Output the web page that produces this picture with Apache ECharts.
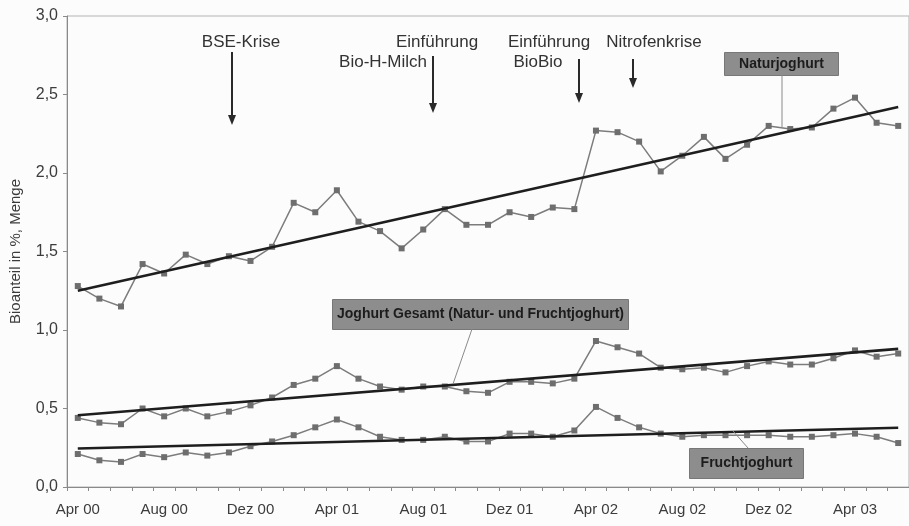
<!DOCTYPE html>
<html>
<head>
<meta charset="utf-8">
<script src="https://cdn.jsdelivr.net/npm/echarts@6/dist/echarts.min.js"></script>
<style>
  html, body { margin: 0; padding: 0; background: #fcfcfc; }
  #main { width: 909px; height: 526px; }
</style>
</head>
<body>
<div id="main"></div>
<script>
// monthly periods Apr 00 .. Jun 03
const months = [
  "Apr 00", "Mai 00", "Jun 00", "Jul 00", "Aug 00", "Sep 00", "Okt 00", "Nov 00", "Dez 00",
  "Jan 01", "Feb 01", "Mrz 01", "Apr 01", "Mai 01", "Jun 01", "Jul 01", "Aug 01", "Sep 01",
  "Okt 01", "Nov 01", "Dez 01", "Jan 02", "Feb 02", "Mrz 02", "Apr 02", "Mai 02", "Jun 02",
  "Jul 02", "Aug 02", "Sep 02", "Okt 02", "Nov 02", "Dez 02", "Jan 03", "Feb 03", "Mrz 03",
  "Apr 03", "Mai 03", "Jun 03"
]

const natur = [1.28, 1.20, 1.15, 1.42, 1.36, 1.48, 1.42, 1.47, 1.44, 1.53, 1.81, 1.75, 1.89, 1.69, 1.63, 1.52, 1.64, 1.77, 1.67, 1.67,
  1.75, 1.72, 1.78, 1.77, 2.27, 2.26, 2.20, 2.01, 2.11, 2.23, 2.09, 2.18, 2.30, 2.28, 2.29, 2.41, 2.48, 2.32, 2.30]
const gesamt = [0.44, 0.41, 0.40, 0.50, 0.45, 0.50, 0.45, 0.48, 0.52, 0.57, 0.65, 0.69, 0.77, 0.69, 0.64, 0.62, 0.64, 0.64, 0.61, 0.60,
  0.67, 0.67, 0.66, 0.69, 0.93, 0.89, 0.85, 0.76, 0.75, 0.76, 0.73, 0.77, 0.80, 0.78, 0.78, 0.82, 0.87, 0.83, 0.85]
const frucht = [0.21, 0.17, 0.16, 0.21, 0.19, 0.22, 0.20, 0.22, 0.26, 0.29, 0.33, 0.38, 0.43, 0.38, 0.32, 0.30, 0.30, 0.32, 0.29, 0.29,
  0.34, 0.34, 0.32, 0.36, 0.51, 0.44, 0.38, 0.34, 0.32, 0.33, 0.33, 0.33, 0.33, 0.32, 0.32, 0.33, 0.34, 0.32, 0.28]

// linear trends: value at first and last month
const trendNatur = [1.25, 2.42]
const trendGesamt = [0.457, 0.88]
const trendFrucht = [0.245, 0.377]

const yTicks = [0, 0.5, 1, 1.5, 2, 2.5, 3]

const FONT = "Liberation Sans"
const dataColor = "#7c7c7c"
const trendColor = "#1e1e1e"

function dataSeries(name, values) {
  return {
    name: name,
    type: "line",
    data: values,
    symbol: "rect",
    symbolSize: 6,
    lineStyle: { color: dataColor, width: 1.5 },
    itemStyle: { color: "#6e6e6e" },
    z: 3,
    silent: true,
  }
}

function trendSeries(name, ends) {
  return {
    name: name,
    type: "line",
    data: [[0, ends[0]], [months.length - 1, ends[1]]],
    symbol: "none",
    lineStyle: { color: trendColor, width: 2.6 },
    z: 4,
    silent: true,
  }
}

// event arrow pointing down: shaft + filled head
function arrow(x, y1, y2) {
  return {
    type: "group",
    z: 20,
    children: [
      { type: "line", shape: { x1: x, y1: y1, x2: x, y2: y2 - 8 }, style: { stroke: "#2a2a2a", lineWidth: 2 } },
      { type: "polygon", shape: { points: [[x - 4, y2 - 10], [x + 4, y2 - 10], [x, y2]] }, style: { fill: "#2a2a2a" } },
    ],
  }
}

function box(text, x, y, w, h) {
  return {
    type: "group",
    left: x,
    top: y,
    z: 20,
    children: [
      { type: "rect", shape: { x: 0, y: 0, width: w, height: h }, style: { fill: "#8d8d8d", stroke: "#777", lineWidth: 1 } },
      { type: "text", x: w / 2, y: h / 2, style: { text: text, fill: "#1c1c1c", font: "bold 14px " + FONT, align: "center", verticalAlign: "middle" } },
    ],
  }
}

function note(text, x, y) {
  return { type: "text", x: x, y: y, z: 20, style: { text: text, fill: "#333", font: "17px " + FONT, align: "center", verticalAlign: "middle" } }
}

function connector(x1, y1, x2, y2) {
  return { type: "line", z: 19, shape: { x1: x1, y1: y1, x2: x2, y2: y2 }, style: { stroke: "#8a8a8a", lineWidth: 1 } }
}

var chartDom = document.getElementById("main")
var myChart = echarts.init(chartDom, null, { renderer: "canvas" })

var option = {
  backgroundColor: "#fcfcfc",
  animation: false,
  textStyle: { fontFamily: FONT },
  grid: {
    left: 62,
    right: 0,
    top: 16,
    bottom: 39,
    containLabel: false,
    show: true,
    borderColor: "#b4b4b4",
    borderWidth: 1,
  },
  xAxis: {
    type: "category",
    data: months,
    boundaryGap: true,
    axisLine: { lineStyle: { color: "#8a8a8a", width: 1 } },
    axisTick: { show: true, interval: 0, length: 4, lineStyle: { color: "#8a8a8a" } },
    axisLabel: {
      interval: 3,
      color: "#3c3c3c",
      fontSize: 15,
      margin: 15,
      fontFamily: FONT,
    },
    splitLine: { show: false },
  },
  yAxis: {
    type: "value",
    min: yTicks[0],
    max: yTicks[yTicks.length - 1],
    interval: 0.5,
    name: "Bioanteil in %, Menge",
    nameLocation: "middle",
    nameGap: 44,
    nameTextStyle: { color: "#3c3c3c", fontSize: 15, fontFamily: FONT },
    axisLine: { show: true, lineStyle: { color: "#8a8a8a", width: 1 } },
    axisTick: { show: true, length: 4, lineStyle: { color: "#8a8a8a" } },
    axisLabel: {
      color: "#3c3c3c",
      fontSize: 16,
      margin: 9,
      fontFamily: FONT,
      formatter: (v) => v.toFixed(1).replace(".", ","),
    },
    splitLine: { show: false },
  },
  series: [
    trendSeries("Trend Natur", trendNatur),
    trendSeries("Trend Gesamt", trendGesamt),
    trendSeries("Trend Frucht", trendFrucht),
    dataSeries("Naturjoghurt", natur),
    dataSeries("Joghurt Gesamt", gesamt),
    dataSeries("Fruchtjoghurt", frucht),
  ],
  graphic: [
    note("BSE-Krise", 241, 42),
    note("Einführung", 437, 42),
    note("Bio-H-Milch", 383, 62),
    note("Einführung", 549, 42),
    note("BioBio", 538, 62),
    note("Nitrofenkrise", 654, 42),
    arrow(232, 52, 125),
    arrow(433, 56, 113),
    arrow(579, 59, 103),
    arrow(633, 59, 88),
    connector(782, 75, 782, 128),
    connector(472, 329, 453, 384),
    connector(748, 448, 733, 431),
    box("Naturjoghurt", 724, 52, 114, 23),
    box("Joghurt Gesamt (Natur- und Fruchtjoghurt)", 332, 299, 296, 30),
    box("Fruchtjoghurt", 689, 448, 114, 30),
  ],
}

option && myChart.setOption(option)

window.addEventListener("resize", () => {
  myChart.resize()
})
</script>
</body>
</html>
